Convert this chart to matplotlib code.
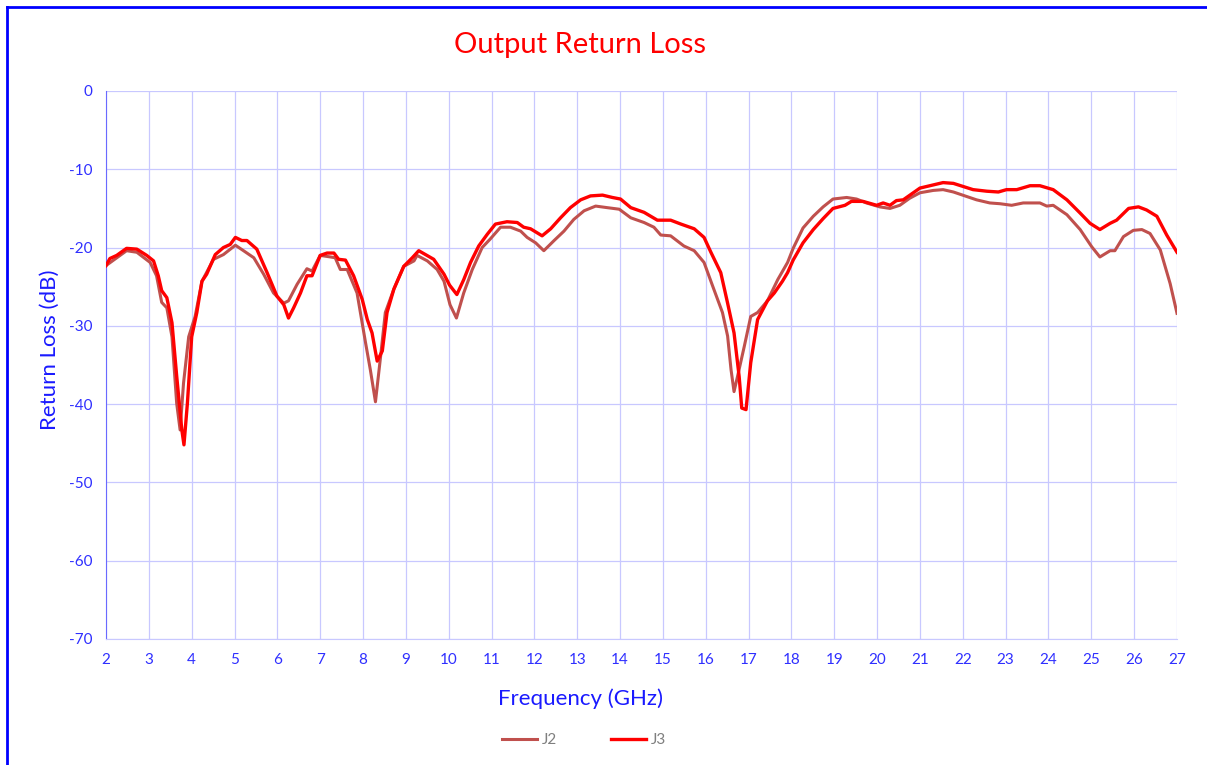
import numpy as np
import matplotlib
matplotlib.use("Agg")
import matplotlib.pyplot as plt
from matplotlib.lines import Line2D

plt.rcParams['font.family'] = ['Lato', 'DejaVu Sans']
plt.rcParams['axes.unicode_minus'] = False

# J2 trace (GHz, dB)
j2_freq = [2.0, 2.48, 2.72, 3.03, 3.18, 3.30, 3.42, 3.54, 3.65, 3.73, 3.81, 3.93,
           4.08, 4.24, 4.51, 4.74, 5.02, 5.21, 5.45, 5.68, 5.91, 6.15, 6.26, 6.46,
           6.69, 6.81, 7.00, 7.24, 7.35, 7.47, 7.63, 7.86, 8.06, 8.17, 8.29, 8.41,
           8.52, 8.72, 8.95, 9.19, 9.26, 9.50, 9.73, 9.89, 10.03, 10.18, 10.35, 10.55,
           10.78, 10.97, 11.21, 11.44, 11.68, 11.83, 12.03, 12.22, 12.46, 12.69, 12.92,
           13.16, 13.43, 13.70, 13.98, 14.25, 14.56, 14.79, 14.95, 15.18, 15.49, 15.73,
           15.96, 16.16, 16.39, 16.51, 16.59, 16.66, 16.74, 16.90, 17.05, 17.21, 17.44,
           17.68, 17.91, 18.04, 18.27, 18.51, 18.74, 18.97, 19.29, 19.52, 19.75, 20.06,
           20.30, 20.53, 20.76, 21.00, 21.31, 21.54, 21.78, 22.05, 22.32, 22.63, 22.87,
           23.14, 23.41, 23.80, 23.96, 24.11, 24.43, 24.74, 25.01, 25.20, 25.44, 25.55,
           25.75, 25.98, 26.18, 26.37, 26.61, 26.84, 27.0]
j2_db = [-22.3, -20.4, -20.6, -21.9, -23.6, -27.0, -27.7, -31.4, -39.9, -43.3, -37.3, -31.4,
         -28.8, -24.3, -21.5, -20.9, -19.7, -20.4, -21.3, -23.4, -25.8, -27.1, -26.8, -24.7,
         -22.7, -23.0, -21.0, -21.2, -21.3, -22.8, -22.8, -25.8, -32.2, -35.6, -39.7, -33.9,
         -28.3, -25.3, -22.4, -21.7, -21.0, -21.7, -22.8, -24.3, -27.3, -29.0, -25.8, -22.8,
         -20.0, -18.9, -17.4, -17.4, -17.9, -18.7, -19.4, -20.4, -19.1, -17.9, -16.4,
         -15.3, -14.7, -14.9, -15.1, -16.2, -16.8, -17.4, -18.4, -18.5, -19.8, -20.4,
         -21.9, -24.9, -28.3, -31.3, -35.6, -38.4, -36.5, -32.6, -28.8, -28.3, -26.8,
         -24.1, -21.9, -20.1, -17.5, -16.0, -14.8, -13.8, -13.6, -13.8, -14.3, -14.8,
         -15.0, -14.6, -13.7, -13.0, -12.7, -12.6, -12.9, -13.4, -13.9, -14.3, -14.4,
         -14.6, -14.3, -14.3, -14.7, -14.6, -15.8, -17.7, -19.9, -21.2, -20.4, -20.4,
         -18.6, -17.8, -17.7, -18.2, -20.3, -24.6, -28.4]

# J3 trace (GHz, dB)
j3_freq = [2.0, 2.09, 2.25, 2.48, 2.72, 2.95, 3.11, 3.22, 3.30, 3.42, 3.54, 3.65, 3.77,
           3.82, 3.90, 4.00, 4.12, 4.24, 4.35, 4.55, 4.74, 4.90, 5.02, 5.17, 5.29, 5.52,
           5.76, 5.99, 6.15, 6.26, 6.38, 6.54, 6.69, 6.81, 7.00, 7.16, 7.32, 7.43, 7.59,
           7.78, 7.98, 8.10, 8.21, 8.33, 8.45, 8.56, 8.72, 8.95, 9.15, 9.30, 9.46, 9.65,
           9.89, 10.02, 10.19, 10.35, 10.51, 10.70, 10.90, 11.09, 11.36, 11.60, 11.75,
           11.91, 12.18, 12.38, 12.61, 12.84, 13.08, 13.31, 13.59, 13.82, 14.01, 14.25,
           14.56, 14.87, 15.18, 15.42, 15.73, 15.96, 16.12, 16.35, 16.51, 16.66, 16.78,
           16.84, 16.94, 17.05, 17.21, 17.44, 17.60, 17.79, 17.91, 18.04, 18.27, 18.51,
           18.74, 18.97, 19.25, 19.40, 19.67, 19.99, 20.14, 20.30, 20.45, 20.61, 21.00,
           21.31, 21.54, 21.78, 22.01, 22.24, 22.56, 22.83, 23.02, 23.26, 23.57, 23.80,
           24.11, 24.43, 24.74, 24.97, 25.20, 25.44, 25.59, 25.87, 26.10, 26.29, 26.53,
           26.76, 27.0]
j3_db = [-22.3, -21.4, -21.0, -20.1, -20.2, -21.0, -21.7, -23.6, -25.5, -26.4, -29.6, -36.4, -43.3,
         -45.2, -39.9, -31.4, -28.3, -24.3, -23.4, -20.9, -20.0, -19.6, -18.7, -19.1, -19.1, -20.2,
         -23.2, -26.2, -27.3, -29.0, -27.7, -25.8, -23.6, -23.6, -21.0, -20.7, -20.7, -21.5, -21.6,
         -23.6, -26.6, -29.2, -30.9, -34.5, -33.2, -28.3, -25.3, -22.4, -21.3, -20.4, -20.9, -21.5,
         -23.4, -24.8, -26.0, -24.1, -21.9, -19.8, -18.3, -17.0, -16.7, -16.8, -17.4,
         -17.6, -18.5, -17.6, -16.2, -14.9, -13.9, -13.4, -13.3, -13.6, -13.8, -14.9,
         -15.5, -16.5, -16.5, -17.0, -17.6, -18.7, -20.6, -23.2, -27.1, -30.9, -36.5,
         -40.5, -40.7, -34.7, -29.2, -26.8, -25.8, -24.3, -23.2, -21.6, -19.4, -17.7,
         -16.3, -15.0, -14.6, -14.1, -14.1, -14.6, -14.3, -14.6, -14.0, -13.9, -12.4,
         -12.0, -11.7, -11.8, -12.2, -12.6, -12.8, -12.9, -12.6, -12.6, -12.1, -12.1,
         -12.6, -13.9, -15.6, -16.9, -17.7, -16.9, -16.5, -15.0, -14.8, -15.2, -16.0,
         -18.4, -20.6]

x_ticks = list(range(2, 28))
y_ticks = list(range(-70, 1, 10))

blue = '#2F2FFF'
W, H = 1207, 765
fig = plt.figure(figsize=(W / 100, H / 100), dpi=100)
ax = fig.add_axes([106 / W, 1 - 639 / H, (1177 - 106) / W, (639 - 91) / H])

ax.plot(j2_freq, j2_db, color='#C0504D', lw=2.2, label='J2', zorder=3)
ax.plot(j3_freq, j3_db, color='#FF0000', lw=2.4, label='J3', zorder=4)

ax.set_xlim(2, 27)
ax.set_ylim(-70, 0)
ax.set_xticks(x_ticks)
ax.set_yticks(y_ticks)
ax.grid(True, color='#C8C8FF', lw=0.9)
ax.tick_params(length=0, colors=blue, labelsize=11, pad=10)
for s in ['top', 'right']:
    ax.spines[s].set_visible(False)
ax.spines['left'].set_color('#6A6AFF')
ax.spines['bottom'].set_color('#C8C8FF')

fig.text(580 / W, 1 - 45 / H, 'Output Return Loss', color='#FF0000', fontsize=21,
         ha='center', va='center')
fig.text(580 / W, 1 - 699 / H, 'Frequency (GHz)', color='#1A1AFF', fontsize=16,
         ha='center', va='center')
fig.text(50 / W, 1 - 350 / H, 'Return Loss (dB)', color='#1A1AFF', fontsize=16,
         ha='center', va='center', rotation=90)

ax.legend(loc='center', bbox_to_anchor=(584 / W, 1 - 740 / H), bbox_transform=fig.transFigure,
          ncol=2, frameon=False, fontsize=11, labelcolor='#7F7F7F', handlelength=2.3,
          columnspacing=3.5, handletextpad=0.3)

# outer chart frame (top and left edges visible)
fig.add_artist(Line2D([7 / W, 7 / W], [0, 1 - 7 / H], color='#0000FF', lw=2))
fig.add_artist(Line2D([7 / W, 1], [1 - 7 / H, 1 - 7 / H], color='#0000FF', lw=2))

fig.savefig('out.png', dpi=100)
